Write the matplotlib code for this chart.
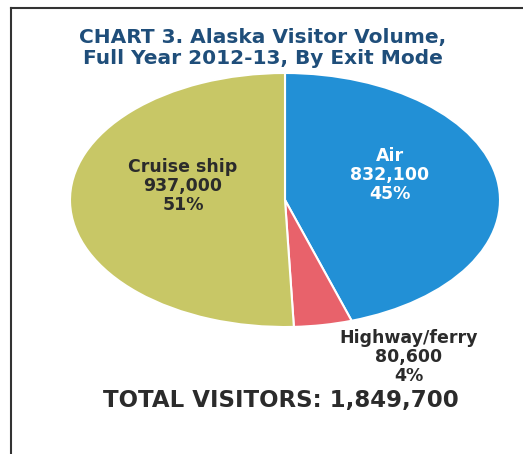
import matplotlib
matplotlib.use("Agg")
import matplotlib.pyplot as plt
from matplotlib.lines import Line2D

# data
modes = ["Air", "Highway/ferry", "Cruise ship"]
visitors = [832100, 80600, 937000]
shares = ["45%", "4%", "51%"]
total = 1849700

colors = ["#2290D6", "#E8626B", "#C8C766"]
text_colors = ["white", "#2b2b2b", "#2b2b2b"]

fig = plt.figure(figsize=(5.23, 4.54), dpi=100)
W, H = 523, 454

# stretched (elliptical) pie, like the original
ax = fig.add_axes([70 / W, 1 - 327 / H, 430 / W, 254 / H])
wedges, _ = ax.pie(visitors, colors=colors, startangle=90, counterclock=False,
                   wedgeprops=dict(edgecolor="white", linewidth=1.5))
ax.set_aspect("auto")
ax.set_xlim(-1, 1)
ax.set_ylim(-1, 1)
ax.axis("off")

# label positions in pixels (centre of the three lines)
label_pos = [(390, 175), (409, 357), (183, 186)]
for name, v, s, c, (px, py) in zip(modes, visitors, shares, text_colors, label_pos):
    fig.text(px / W, 1 - py / H, f"{name}\n{v:,}\n{s}", ha="center", va="center",
             fontsize=12.5, fontweight="bold", color=c, linespacing=1.1)

fig.text(263 / W, 1 - 48 / H, "CHART 3. Alaska Visitor Volume,\nFull Year 2012-13, By Exit Mode",
         ha="center", va="center", fontsize=14.5, fontweight="bold", color="#1F4E7A",
         linespacing=1.1)
fig.text(281 / W, 1 - 401 / H, f"TOTAL VISITORS: {total:,}", ha="center", va="center",
         fontsize=16.5, fontweight="bold", color="#2b2b2b")

# frame lines
fig.add_artist(Line2D([11 / W, 11 / W], [0, 1 - 8 / H], color="#333333", lw=1.5))
fig.add_artist(Line2D([11 / W, 1], [1 - 8 / H, 1 - 8 / H], color="#333333", lw=1.5))

fig.savefig("out.png", dpi=100)
